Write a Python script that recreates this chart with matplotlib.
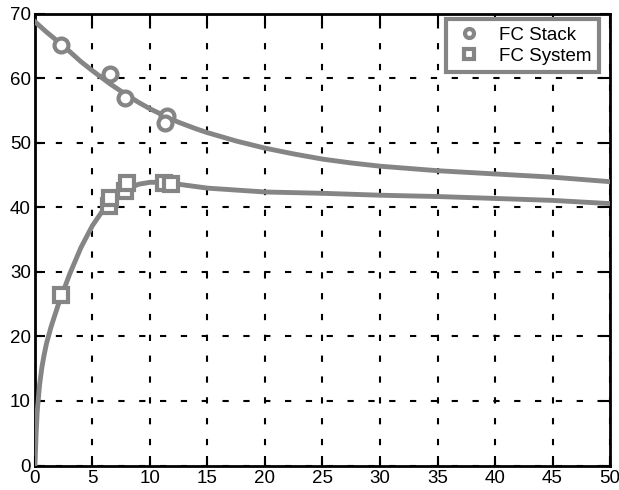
import matplotlib
matplotlib.use("Agg")
import matplotlib.pyplot as plt

# courbes
x_stack = [0, 1, 2.5, 4, 5, 6.5, 7.5, 9, 10, 11.5, 12.5, 14, 15, 17.5, 20, 22.5, 25, 27.5, 30, 35, 40, 45, 50]
y_stack = [68.8, 67.2, 65.0, 62.6, 61.2, 59.2, 58.0, 56.3, 55.3, 54.0, 53.2, 52.2, 51.6, 50.3, 49.2, 48.3, 47.5, 46.9, 46.4, 45.7, 45.2, 44.7, 44.0]
x_system = [0, 0.1, 0.2, 0.4, 0.6, 0.8, 1.0, 1.4, 2.0, 2.5, 3.0, 4.0, 5.0, 6.0, 7.0, 8.0, 9.0, 10.0, 11.0, 12.5, 15, 20, 25, 30, 35, 40, 45, 50]
y_system = [0, 5.0, 8.5, 12.5, 15.2, 17.2, 18.9, 21.5, 24.8, 27.2, 29.6, 33.8, 37.2, 39.8, 41.6, 42.8, 43.6, 43.9, 43.9, 43.6, 43.0, 42.4, 42.2, 41.9, 41.7, 41.4, 41.1, 40.6]

# points de mesure
x_pts_stack = [2.3, 6.5, 7.8, 11.5, 11.3]
y_pts_stack = [65.2, 60.7, 57.0, 54.2, 53.1]
x_pts_system = [2.3, 6.4, 6.5, 7.8, 8.0, 11.2, 11.8]
y_pts_system = [26.4, 40.2, 41.5, 42.5, 43.8, 43.8, 43.6]

gris = "#858585"

plt.rcParams["font.family"] = "Liberation Sans"

fig = plt.figure(figsize=(6.19, 4.90), dpi=100)
ax = fig.add_axes([0.0565, 0.05, 0.929, 0.9215])

ax.plot(x_stack, y_stack, color=gris, lw=3.5, zorder=3)
ax.plot(x_system, y_system, color=gris, lw=3.5, zorder=3)
ax.plot(x_pts_stack, y_pts_stack, "o", ms=10, mfc="white", mec=gris, mew=3,
        ls="none", label="FC Stack", zorder=4)
ax.plot(x_pts_system, y_pts_system, "s", ms=10, mfc="white", mec=gris, mew=3,
        ls="none", label="FC System", zorder=4)

ax.set_xlim(0, 50)
ax.set_ylim(0, 70)
ax.set_xticks(range(0, 51, 5))
ax.set_yticks(range(0, 71, 10))
ax.grid(True, color="black", lw=1.5, ls=(0, (3, 7)))
ax.tick_params(direction="in", length=7, width=1.5, top=True, right=True,
               labelsize=13.5, pad=3)
for s in ax.spines.values():
    s.set_linewidth(2)

leg = ax.legend(loc="upper right", bbox_to_anchor=(0.98, 0.988), fontsize=13.5,
                fancybox=False, framealpha=1, edgecolor=gris, borderpad=0.4,
                handletextpad=0.8, handlelength=1.6, labelspacing=0.2,
                markerscale=0.65, borderaxespad=0)
leg.get_frame().set_linewidth(3)

fig.savefig("out.png", dpi=100)
